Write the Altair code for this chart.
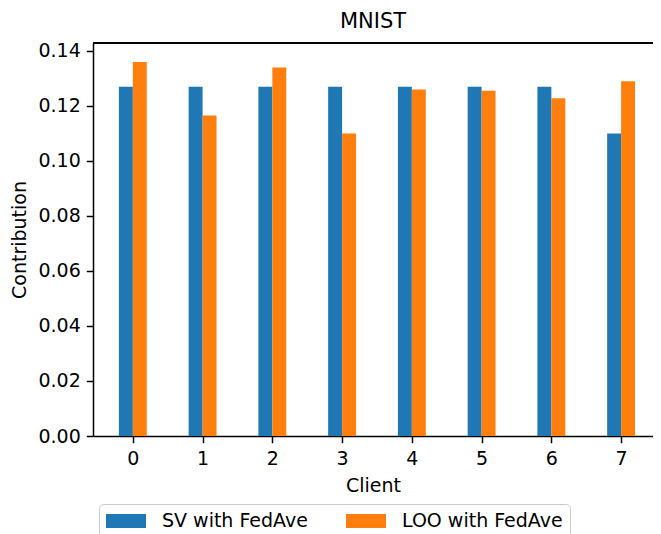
import altair as alt
import pandas as pd

clients = [0, 1, 2, 3, 4, 5, 6, 7]
sv_values = [0.127, 0.127, 0.127, 0.127, 0.127, 0.127, 0.127, 0.110]
loo_values = [0.136, 0.1165, 0.134, 0.110, 0.126, 0.1255, 0.1228, 0.129]
series_names = ["SV with FedAve", "LOO with FedAve"]
series_colors = ["#1f77b4", "#ff7f0e"]
y_ticks = [0.0, 0.02, 0.04, 0.06, 0.08, 0.10, 0.12, 0.14]
title_text = "MNIST"
x_title = "Client"
y_title = "Contribution"

rows = []
for idx, vals in enumerate([sv_values, loo_values]):
    for c, v in zip(clients, vals):
        rows.append({"client": c, "series": series_names[idx], "idx": idx, "value": v})
df = pd.DataFrame(rows)

FONT = "DejaVu Sans"
W, H = 560, 393

bars = alt.Chart(df).transform_calculate(
    x0="datum.client - 0.2 + 0.2 * datum.idx",
    x1="datum.client + 0.2 * datum.idx",
).mark_bar(strokeWidth=0).encode(
    x=alt.X("x0:Q",
            scale=alt.Scale(domain=[-0.571, 7.457], nice=False, zero=False),
            axis=alt.Axis(values=clients, format="d", title=x_title, titlePadding=8,
                          labelPadding=7)),
    x2="x1:Q",
    y=alt.Y("value:Q",
            scale=alt.Scale(domain=[0, 0.1429], nice=False),
            axis=alt.Axis(values=y_ticks, format=".2f", title=y_title, titlePadding=8,
                          labelPadding=6)),
    y2=alt.datum(0),
    color=alt.Color("series:N",
                    scale=alt.Scale(domain=series_names, range=series_colors),
                    sort=series_names,
                    legend=alt.Legend(title=None, orient="none", legendX=6, legendY=461,
                                      direction="horizontal",
                                      symbolType="M-1,-0.7L3,-0.7L3,0.7L-1,0.7Z",
                                      symbolSize=400, symbolStrokeWidth=0, symbolOpacity=1,
                                      labelFont=FONT, labelFontSize=19, labelColor="black",
                                      labelOffset=36, columnPadding=38, padding=7,
                                      strokeColor="#cccccc", cornerRadius=4,
                                      fillColor="white", labelLimit=400)),
)

top_spine = alt.Chart(df).mark_rule(color="black", strokeWidth=1.5).encode(
    x=alt.value(0), x2=alt.value(W), y=alt.value(0)
)

chart = alt.layer(bars, top_spine).properties(
    width=W,
    height=H,
    autosize="none",
    padding={"left": 85, "top": 35, "right": 0, "bottom": 98},
    title=alt.TitleParams(title_text, font=FONT, fontSize=21, fontWeight="normal",
                          color="black", offset=10, anchor="middle"),
).configure_view(
    stroke=None
).configure_axis(
    grid=False,
    domainColor="black", domainWidth=1.5,
    tickColor="black", tickWidth=1.5, tickSize=6.7,
    labelFont=FONT, labelFontSize=19, labelColor="black",
    titleFont=FONT, titleFontSize=19, titleColor="black", titleFontWeight="normal",
)

chart.save("out.html", embed_options={"renderer": "svg", "actions": False})
